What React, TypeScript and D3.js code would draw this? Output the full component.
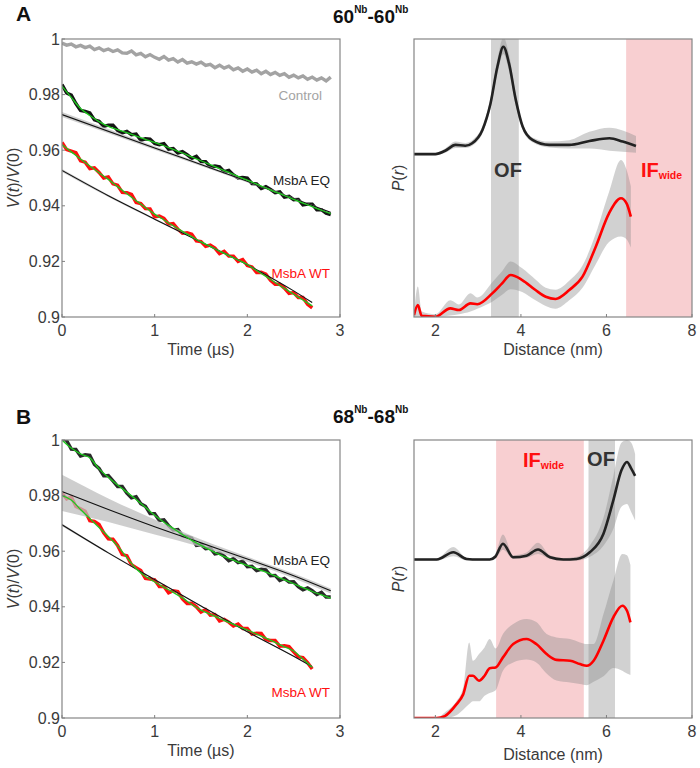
import React from "react";
import * as d3 from "d3";

const FONT = "'Liberation Sans', Arial, Helvetica, sans-serif";

// ---------- time axis samples ----------
const TIME = [0,0.05,0.1,0.15,0.2,0.25,0.3,0.35,0.4,0.45,0.5,0.55,0.6,0.65,0.7,0.75,0.8,0.85,0.9,0.95,1,1.05,1.1,1.15,1.2,1.25,1.3,1.35,1.4,1.45,1.5,1.55,1.6,1.65,1.7,1.75,1.8,1.85,1.9,1.95,2,2.05,2.1,2.15,2.2,2.25,2.3,2.35,2.4,2.45,2.5,2.55,2.6,2.65,2.7,2.75,2.8,2.85,2.9];
const FIT_TIME = [0,0.1,0.2,0.3,0.4,0.5,0.6,0.7,0.8,0.9,1,1.1,1.2,1.3,1.4,1.5,1.6,1.7,1.8,1.9,2,2.1,2.2,2.3,2.4,2.5,2.6,2.7,2.8,2.9];

// ---------- Panel A, time traces ----------
const A_CONTROL = [0.9985,0.9978,0.9982,0.9972,0.9977,0.9969,0.9974,0.9962,0.9968,0.9958,0.9964,0.9955,0.9961,0.9950,0.9949,0.9957,0.9943,0.9948,0.9936,0.9944,0.9934,0.9927,0.9937,0.9924,0.9929,0.9917,0.9926,0.9913,0.9918,0.9910,0.9917,0.9905,0.9909,0.9897,0.9906,0.9895,0.9902,0.9889,0.9896,0.9884,0.9892,0.9881,0.9888,0.9875,0.9884,0.9872,0.9880,0.9869,0.9875,0.9862,0.9870,0.9860,0.9867,0.9855,0.9863,0.9852,0.9860,0.9849,0.9863];
const A_EQ = [0.9836,0.9806,0.9798,0.9768,0.9743,0.9740,0.9734,0.9709,0.9704,0.9686,0.9690,0.9690,0.9671,0.9662,0.9668,0.9656,0.9658,0.9636,0.9641,0.9640,0.9624,0.9620,0.9624,0.9604,0.9606,0.9590,0.9595,0.9584,0.9571,0.9578,0.9559,0.9559,0.9540,0.9543,0.9540,0.9523,0.9527,0.9511,0.9500,0.9502,0.9500,0.9480,0.9479,0.9462,0.9469,0.9459,0.9447,0.9450,0.9431,0.9434,0.9422,0.9423,0.9403,0.9406,0.9406,0.9386,0.9386,0.9373,0.9368];
const A_WT = [0.9628,0.9602,0.9597,0.9591,0.9562,0.9557,0.9534,0.9537,0.9520,0.9500,0.9504,0.9479,0.9474,0.9448,0.9447,0.9441,0.9412,0.9408,0.9390,0.9389,0.9360,0.9363,0.9355,0.9334,0.9336,0.9316,0.9301,0.9303,0.9298,0.9274,0.9271,0.9254,0.9259,0.9248,0.9228,0.9236,0.9219,0.9219,0.9200,0.9207,0.9185,0.9180,0.9160,0.9161,0.9154,0.9132,0.9118,0.9118,0.9104,0.9085,0.9088,0.9070,0.9070,0.9046,0.9033];
const A_EQ_FIT = [0.983,0.979,0.975,0.9725,0.9703,0.9686,0.9674,0.9663,0.9651,0.9639,0.9628,0.9616,0.9603,0.959,0.9576,0.9562,0.9548,0.9534,0.952,0.9506,0.9492,0.9478,0.9464,0.945,0.9437,0.9423,0.941,0.9397,0.9384,0.9372];
const A_WT_FIT = [0.962,0.9594,0.9568,0.9543,0.9519,0.9495,0.9469,0.9443,0.9418,0.9394,0.937,0.9349,0.9328,0.9308,0.9289,0.927,0.9254,0.9237,0.9221,0.9205,0.9189,0.9167,0.9146,0.9124,0.9103,0.9082,0.9061,0.904];
const A_EQ_BG_T = [0,1,2,2.9];
const A_EQ_BG = [0.9728,0.9608,0.9488,0.9376];
const A_EQ_BG_HI = [0.9737,0.9614,0.9492,0.9379];
const A_EQ_BG_LO = [0.9719,0.9602,0.9484,0.9373];
const A_WT_BG_T = [0,0.5,1,1.5,2,2.5,2.7];
const A_WT_BG = [0.9527,0.9436,0.9352,0.9270,0.9188,0.9094,0.9052];
const A_WT_BG_HI = [0.9532,0.9440,0.9355,0.9272,0.9190,0.9095,0.9053];
const A_WT_BG_LO = [0.9522,0.9432,0.9349,0.9268,0.9186,0.9093,0.9051];

// ---------- Panel B, time traces ----------
const B_EQ = [1.0005,0.9998,0.9967,0.9966,0.9942,0.9947,0.9945,0.9912,0.9898,0.9871,0.9872,0.9853,0.9833,0.9833,0.9809,0.9792,0.9796,0.9771,0.9762,0.9735,0.9735,0.9711,0.9713,0.9692,0.9676,0.9678,0.9656,0.9652,0.9647,0.9621,0.9623,0.9609,0.9611,0.9590,0.9593,0.9582,0.9566,0.9573,0.9559,0.9564,0.9544,0.9546,0.9530,0.9535,0.9533,0.9512,0.9513,0.9495,0.9502,0.9489,0.9490,0.9472,0.9461,0.9468,0.9458,0.9444,0.9452,0.9435,0.9435];
const B_WT = [0.9809,0.9788,0.9796,0.9761,0.9753,0.9744,0.9710,0.9707,0.9696,0.9666,0.9644,0.9643,0.9621,0.9588,0.9584,0.9551,0.9541,0.9531,0.9502,0.9500,0.9497,0.9473,0.9473,0.9450,0.9458,0.9455,0.9428,0.9412,0.9413,0.9400,0.9381,0.9390,0.9370,0.9372,0.9349,0.9355,0.9345,0.9331,0.9338,0.9322,0.9322,0.9302,0.9305,0.9304,0.9282,0.9279,0.9279,0.9258,0.9260,0.9257,0.9238,0.9220,0.9217,0.9199,0.9176];
const B_EQ_FIT = [1.0,0.9971,0.995,0.9936,0.9896,0.9866,0.9838,0.9812,0.9786,0.9758,0.9729,0.9704,0.9682,0.966,0.9639,0.9621,0.9604,0.9588,0.9574,0.9561,0.9549,0.9537,0.9525,0.9511,0.9497,0.9483,0.9469,0.9455,0.9443,0.9431];
const B_WT_FIT = [0.98,0.9784,0.975,0.9718,0.9685,0.9653,0.9619,0.9577,0.9537,0.9509,0.9489,0.947,0.9452,0.9432,0.9408,0.9388,0.9373,0.9358,0.9344,0.933,0.9317,0.9302,0.9287,0.9272,0.9256,0.9241,0.9212,0.9182];
const B_EQ_BG_T = [0,0.5,1,1.5,2,2.5,2.9];
const B_EQ_BG = [0.9815,0.9750,0.9688,0.9630,0.9572,0.9512,0.9458];
const B_EQ_BG_HI = [0.9875,0.9790,0.9714,0.9642,0.9580,0.9520,0.9466];
const B_EQ_BG_LO = [0.9745,0.9705,0.9660,0.9615,0.9562,0.9503,0.9448];
const B_WT_BG_T = [0,0.5,1,1.5,2,2.5,2.7];
const B_WT_BG = [0.9695,0.9594,0.9498,0.9403,0.9310,0.9222,0.9185];
const B_WT_BG_HI = [0.9700,0.9597,0.9500,0.9405,0.9312,0.9224,0.9187];
const B_WT_BG_LO = [0.9690,0.9591,0.9496,0.9401,0.9308,0.9220,0.9183];

// ---------- Panel A, distance distributions ----------
const A_BLACK_R = [1.5,2.0,2.23,2.47,2.7,2.86,3.1,3.29,3.45,3.59,3.72,3.88,4.04,4.27,4.66,5.13,5.6,6.07,6.38,6.69];
const A_BLACK = [0,0,0.012,0.033,0.030,0.039,0.087,0.183,0.314,0.386,0.327,0.195,0.099,0.051,0.033,0.033,0.047,0.057,0.045,0.029];
const A_BLACK_HI = [0.004,0.004,0.02,0.045,0.04,0.05,0.1,0.2,0.34,0.42,0.36,0.215,0.11,0.06,0.045,0.05,0.08,0.095,0.085,0.065];
const A_BLACK_LO = [-0.004,-0.004,0.005,0.022,0.022,0.03,0.075,0.165,0.29,0.36,0.3,0.175,0.088,0.043,0.024,0.02,0.02,0.012,0.008,0.005];
const A_BLACK_OFFSET = 0.586;
const A_RED_R = [1.5,1.59,1.68,2.0,2.35,2.55,2.82,2.98,3.33,3.56,3.76,4.03,4.34,4.58,4.81,5.13,5.44,5.75,6.06,6.34,6.47,6.57];
const A_RED = [0.007,0.043,0.004,0.001,0.031,0.025,0.049,0.046,0.085,0.121,0.151,0.133,0.097,0.073,0.065,0.097,0.145,0.253,0.373,0.427,0.409,0.361];
const A_RED_HI = [0.01,0.11,0.02,0.01,0.06,0.045,0.085,0.07,0.125,0.165,0.2,0.175,0.135,0.105,0.098,0.13,0.185,0.3,0.45,0.565,0.53,0.47];
const A_RED_LO = [0,0,0,0,0.005,0.01,0.02,0.03,0.055,0.08,0.1,0.09,0.06,0.04,0.03,0.06,0.105,0.19,0.27,0.29,0.28,0.25];

// ---------- Panel B, distance distributions ----------
const B_BLACK_R = [1.5,2.03,2.42,2.73,3.0,3.27,3.4,3.58,3.82,4.13,4.4,4.68,4.99,5.3,5.61,5.93,6.16,6.35,6.48,6.58,6.67];
const B_BLACK = [0,0,0.026,0.002,0,0,0.01,0.057,0.008,0.014,0.036,0.008,0,0.002,0.026,0.093,0.213,0.321,0.351,0.327,0.301];
const B_BLACK_HI = [0.004,0.004,0.045,0.006,0.004,0.004,0.02,0.09,0.015,0.025,0.06,0.015,0.005,0.01,0.05,0.15,0.3,0.42,0.43,0.42,0.38];
const B_BLACK_LO = [-0.004,-0.004,0.012,-0.003,-0.004,-0.004,0.002,0.035,0.002,0.006,0.02,0.002,-0.004,-0.004,0.01,0.05,0.11,0.19,0.2,0.17,0.14];
const B_BLACK_OFFSET = 0.57;
const B_RED_R = [1.5,2.03,2.22,2.49,2.65,2.79,2.88,3.02,3.15,3.27,3.41,3.58,3.82,4.13,4.36,4.6,4.83,5.15,5.38,5.54,5.7,5.93,6.16,6.37,6.48,6.56];
const B_RED = [0,0,0.007,0.049,0.085,0.152,0.152,0.134,0.152,0.179,0.182,0.218,0.266,0.284,0.266,0.23,0.209,0.206,0.194,0.188,0.206,0.278,0.362,0.404,0.386,0.344];
const B_RED_HI = [0,0,0.02,0.06,0.11,0.272,0.206,0.23,0.254,0.284,0.25,0.302,0.338,0.356,0.345,0.302,0.29,0.284,0.272,0.266,0.266,0.374,0.494,0.59,0.585,0.55];
const B_RED_LO = [0,0,0,0.01,0.03,0.05,0.06,0.06,0.08,0.09,0.1,0.17,0.2,0.21,0.2,0.16,0.135,0.128,0.122,0.118,0.13,0.15,0.18,0.17,0.16,0.155];

const Y_TICKS = [0.9, 0.92, 0.94, 0.96, 0.98, 1];
const Y_TICK_LABELS = ["0.9", "0.92", "0.94", "0.96", "0.98", "1"];
const X_TIME_TICKS = [0, 1, 2, 3];
const X_DIST_TICKS = [2, 4, 6, 8];

// regions on distance panels [start, end]
const A_OF = [3.3, 3.95];
const A_IF = [6.46, 8];
const B_IF = [3.42, 5.47];
const B_OF = [5.58, 6.2];

const LEFT = { x0: 62, x1: 340 };
const RIGHT = { x0: 414, x1: 692 };
const ROW_A = { y0: 39, y1: 317 };
const ROW_B = { y0: 440, y1: 718 };

const zip = (a: number[], b: number[]) => a.map((v, i) => [v, b[i]] as [number, number]);

type Trace = { t: number[]; v: number[]; color: string; width: number };
type Bg = { t: number[]; v: number[]; hi: number[]; lo: number[] };
type Fit = { t: number[]; v: number[] };
type Lbl = { text: string; x: number; y: number; color: string };

function Frame({ x0, x1, y0, y1 }: { x0: number; x1: number; y0: number; y1: number }) {
  return <rect x={x0} y={y0} width={x1 - x0} height={y1 - y0} fill="none" stroke="#858585" strokeWidth={1.2} />;
}

function TimePanel({ row, id, traces, bgs, fits, labels, labelY, titleY }: {
  row: { y0: number; y1: number }; id: string; traces: Trace[]; bgs: Bg[]; fits: Fit[]; labels: Lbl[]; labelY: number; titleY: number;
}) {
  const x = d3.scaleLinear().domain([0, 3]).range([LEFT.x0, LEFT.x1]);
  const y = d3.scaleLinear().domain([0.9, 1]).range([row.y1, row.y0]);
  const lin = d3.line<[number, number]>().x(d => x(d[0])).y(d => y(d[1]));
  const smooth = d3.line<[number, number]>().x(d => x(d[0])).y(d => y(d[1])).curve(d3.curveMonotoneX);
  const area = d3.area<[number, number, number]>().x(d => x(d[0])).y0(d => y(d[2])).y1(d => y(d[1])).curve(d3.curveMonotoneX);
  const mid = (row.y0 + row.y1) / 2;
  return (
    <g>
      <defs>
        <clipPath id={id}>
          <rect x={LEFT.x0} y={row.y0} width={LEFT.x1 - LEFT.x0} height={row.y1 - row.y0} />
        </clipPath>
      </defs>
      <g clipPath={`url(#${id})`}>
        {traces.map((tr, i) => (
          <path key={i} d={lin(zip(tr.t, tr.v)) || ""} fill="none" stroke={tr.color} strokeWidth={tr.width} strokeLinejoin="miter" strokeMiterlimit={3} />
        ))}
        {bgs.map((b, i) => (
          <g key={i}>
            <path d={area(b.t.map((t, j) => [t, b.hi[j], b.lo[j]] as [number, number, number])) || ""} fill="#bdbdbd" fillOpacity={0.75} />
            <path d={smooth(zip(b.t, b.v)) || ""} fill="none" stroke="#111" strokeWidth={1.1} />
          </g>
        ))}
        {fits.map((f, i) => (
          <path key={i} d={smooth(zip(f.t, f.v)) || ""} fill="none" stroke="#1ec81e" strokeWidth={1.3} />
        ))}
      </g>
      <Frame x0={LEFT.x0} x1={LEFT.x1} y0={row.y0} y1={row.y1} />
      {Y_TICKS.map((t, i) => (
        <g key={i}>
          <line x1={LEFT.x0} x2={LEFT.x0 + 3} y1={y(t)} y2={y(t)} stroke="#808080" />
          <text x={LEFT.x0 - 2} y={y(t) + 5.5} textAnchor="end" fontSize={16} fill="#3a3a3a" fontFamily={FONT}>{Y_TICK_LABELS[i]}</text>
        </g>
      ))}
      {X_TIME_TICKS.map((t, i) => (
        <g key={i}>
          <line x1={x(t)} x2={x(t)} y1={row.y1} y2={row.y1 - 3} stroke="#808080" />
          <text x={x(t)} y={row.y1 + 19} textAnchor="middle" fontSize={16} fill="#3a3a3a" fontFamily={FONT}>{t}</text>
        </g>
      ))}
      <text x={(LEFT.x0 + LEFT.x1) / 2} y={titleY} textAnchor="middle" fontSize={16} fill="#3a3a3a" fontFamily={FONT}>Time (µs)</text>
      <text transform={`translate(${labelY},${mid}) rotate(-90)`} textAnchor="middle" fontSize={16} fill="#3a3a3a" fontFamily={FONT}>
        <tspan fontStyle="italic">V</tspan>(<tspan fontStyle="italic">t</tspan>)/<tspan fontStyle="italic">V</tspan>(0)
      </text>
      {labels.map((l, i) => (
        <text key={i} x={l.x} y={l.y} textAnchor="end" fontSize={13.5} fill={l.color} fontFamily={FONT}>{l.text}</text>
      ))}
    </g>
  );
}

type Dist = { r: number[]; v: number[]; hi: number[]; lo: number[]; color: string; offset: number };

function DistPanel({ row, id, dists, regions, annotations, titleY }: {
  row: { y0: number; y1: number }; id: string; dists: Dist[];
  regions: { range: number[]; color: string }[]; annotations: React.ReactNode; titleY: number;
}) {
  const x = d3.scaleLinear().domain([1.5, 8]).range([RIGHT.x0, RIGHT.x1]);
  const y = d3.scaleLinear().domain([0, 1]).range([row.y1, row.y0]);
  const line = d3.line<[number, number]>().x(d => x(d[0])).y(d => y(d[1])).curve(d3.curveMonotoneX);
  const area = d3.area<[number, number, number]>().x(d => x(d[0])).y0(d => y(d[2])).y1(d => y(d[1])).curve(d3.curveMonotoneX);
  const mid = (row.y0 + row.y1) / 2;
  return (
    <g>
      <defs>
        <clipPath id={id}>
          <rect x={RIGHT.x0} y={row.y0} width={RIGHT.x1 - RIGHT.x0} height={row.y1 - row.y0} />
        </clipPath>
      </defs>
      {regions.map((rg, i) => (
        <rect key={i} x={x(rg.range[0])} y={row.y0} width={x(rg.range[1]) - x(rg.range[0])} height={row.y1 - row.y0} fill={rg.color} />
      ))}
      <g clipPath={`url(#${id})`}>
        {dists.map((d, i) => (
          <path key={i} d={area(d.r.map((r, j) => [r, d.hi[j] + d.offset, d.lo[j] + d.offset] as [number, number, number])) || ""} fill="#8c8c8c" fillOpacity={0.4} />
        ))}
        {dists.map((d, i) => (
          <path key={i} d={line(d.r.map((r, j) => [r, d.v[j] + d.offset] as [number, number])) || ""} fill="none" stroke={d.color} strokeWidth={2.6} strokeLinejoin="round" />
        ))}
      </g>
      <Frame x0={RIGHT.x0} x1={RIGHT.x1} y0={row.y0} y1={row.y1} />
      {X_DIST_TICKS.map((t, i) => (
        <g key={i}>
          <line x1={x(t)} x2={x(t)} y1={row.y1} y2={row.y1 - 3} stroke="#808080" />
          <text x={x(t)} y={row.y1 + 19} textAnchor="middle" fontSize={16} fill="#3a3a3a" fontFamily={FONT}>{t}</text>
        </g>
      ))}
      <text x={(RIGHT.x0 + RIGHT.x1) / 2} y={titleY} textAnchor="middle" fontSize={16} fill="#3a3a3a" fontFamily={FONT}>Distance (nm)</text>
      <text transform={`translate(${RIGHT.x0 - 10},${mid}) rotate(-90)`} textAnchor="middle" fontSize={16} fill="#3a3a3a" fontFamily={FONT}>
        <tspan fontStyle="italic">P</tspan>(<tspan fontStyle="italic">r</tspan>)
      </text>
      {annotations}
    </g>
  );
}

function Title({ x, y, a, b }: { x: number; y: number; a: string; b: string }) {
  return (
    <text x={x} y={y} fontSize={19} fontWeight="bold" fill="#111" fontFamily={FONT}>
      {a}
      <tspan fontSize={10} dy={-10}>Nb</tspan>
      <tspan fontSize={19} dy={10}>-{b}</tspan>
      <tspan fontSize={10} dy={-10}>Nb</tspan>
    </text>
  );
}

const PINK = "#f8cfd1";
const GREY = "#d3d3d3";

export default function App() {
  return (
    <svg width={700} height={768} style={{ position: "absolute", left: 0, top: 0, background: "#fff" }} fontFamily={FONT}>
      <rect x={0} y={0} width={700} height={768} fill="#fff" />
      <text x={16} y={20.5} fontSize={21} fontWeight="bold" fill="#111">A</text>
      <text x={16} y={424} fontSize={21} fontWeight="bold" fill="#111">B</text>
      <Title x={333} y={23} a="60" b="60" />
      <Title x={333} y={423} a="68" b="68" />

      <TimePanel
        row={ROW_A} id="clipTA" titleY={355} labelY={19}
        traces={[
          { t: TIME, v: A_CONTROL, color: "#a3a3a3", width: 3.4 },
          { t: TIME, v: A_EQ, color: "#151515", width: 3.4 },
          { t: TIME.slice(0, A_WT.length), v: A_WT, color: "#ff1010", width: 3.4 },
        ]}
        bgs={[
          { t: A_EQ_BG_T, v: A_EQ_BG, hi: A_EQ_BG_HI, lo: A_EQ_BG_LO },
          { t: A_WT_BG_T, v: A_WT_BG, hi: A_WT_BG_HI, lo: A_WT_BG_LO },
        ]}
        fits={[
          { t: FIT_TIME, v: A_EQ_FIT },
          { t: FIT_TIME.slice(0, A_WT_FIT.length), v: A_WT_FIT },
        ]}
        labels={[
          { text: "Control", x: 322, y: 100, color: "#a3a3a3" },
          { text: "MsbA EQ", x: 330, y: 185, color: "#222" },
          { text: "MsbA WT", x: 330, y: 278, color: "#ff1010" },
        ]}
      />

      <TimePanel
        row={ROW_B} id="clipTB" titleY={756} labelY={19}
        traces={[
          { t: TIME, v: B_EQ, color: "#2a2a2a", width: 3.4 },
          { t: TIME.slice(0, B_WT.length), v: B_WT, color: "#ff1010", width: 3.4 },
        ]}
        bgs={[
          { t: B_EQ_BG_T, v: B_EQ_BG, hi: B_EQ_BG_HI, lo: B_EQ_BG_LO },
          { t: B_WT_BG_T, v: B_WT_BG, hi: B_WT_BG_HI, lo: B_WT_BG_LO },
        ]}
        fits={[
          { t: FIT_TIME, v: B_EQ_FIT },
          { t: FIT_TIME.slice(0, B_WT_FIT.length), v: B_WT_FIT },
        ]}
        labels={[
          { text: "MsbA EQ", x: 330, y: 565, color: "#222" },
          { text: "MsbA WT", x: 330, y: 697, color: "#ff1010" },
        ]}
      />

      <DistPanel
        row={ROW_A} id="clipDA" titleY={355}
        regions={[{ range: A_OF, color: GREY }, { range: A_IF, color: PINK }]}
        dists={[
          { r: A_BLACK_R, v: A_BLACK, hi: A_BLACK_HI, lo: A_BLACK_LO, color: "#222", offset: A_BLACK_OFFSET },
          { r: A_RED_R, v: A_RED, hi: A_RED_HI, lo: A_RED_LO, color: "#ff0000", offset: 0 },
        ]}
        annotations={
          <g fontWeight="bold">
            <text x={508} y={177} textAnchor="middle" fontSize={20} fill="#333">OF</text>
            <text x={641} y={177} fontSize={20} fill="#ff1010">IF<tspan fontSize={10.5} dy={2}>wide</tspan></text>
          </g>
        }
      />

      <DistPanel
        row={ROW_B} id="clipDB" titleY={760}
        regions={[{ range: B_IF, color: PINK }, { range: B_OF, color: GREY }]}
        dists={[
          { r: B_BLACK_R, v: B_BLACK, hi: B_BLACK_HI, lo: B_BLACK_LO, color: "#222", offset: B_BLACK_OFFSET },
          { r: B_RED_R, v: B_RED, hi: B_RED_HI, lo: B_RED_LO, color: "#ff0000", offset: 0 },
        ]}
        annotations={
          <g fontWeight="bold">
            <text x={523} y={467} fontSize={20} fill="#ff1010">IF<tspan fontSize={10.5} dy={2}>wide</tspan></text>
            <text x={601} y={466} textAnchor="middle" fontSize={20} fill="#333">OF</text>
          </g>
        }
      />
    </svg>
  );
}
